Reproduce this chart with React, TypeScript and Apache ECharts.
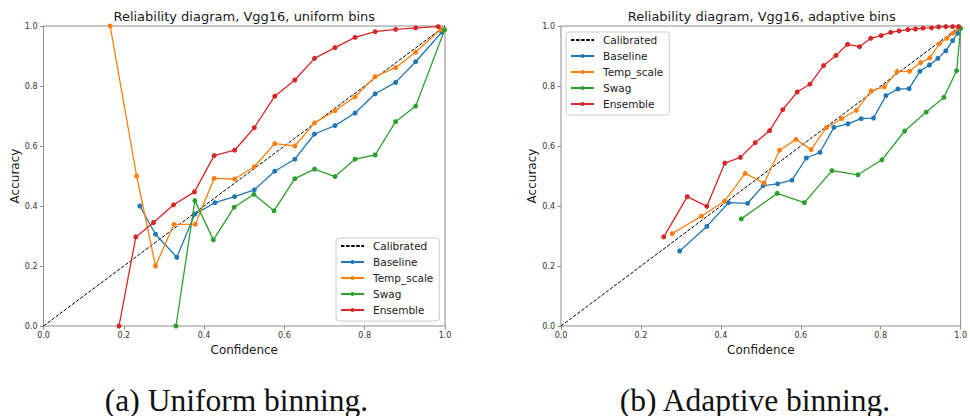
import React, { useEffect, useRef } from "react";
import * as echarts from "echarts";

// ---------- data ----------
const tickValues = [0, 0.2, 0.4, 0.6, 0.8, 1.0];
const seriesNames = ["Calibrated", "Baseline", "Temp_scale", "Swag", "Ensemble"];
const seriesColors = ["#000000", "#1f77b4", "#ff7f0e", "#2ca02c", "#d62728"];
const calibratedLine = [0, 1];

const plotTitles = [
  "Reliability diagram, Vgg16, uniform bins",
  "Reliability diagram, Vgg16, adaptive bins",
];
const captions = ["(a) Uniform binning.", "(b) Adaptive binning."];

// uniform bins
const uniBaselineConf = [0.240, 0.279, 0.332, 0.377, 0.427, 0.476, 0.525, 0.576, 0.626, 0.675, 0.726, 0.776, 0.826, 0.877, 0.927, 0.992];
const uniBaselineAcc = [0.400, 0.306, 0.229, 0.373, 0.411, 0.431, 0.454, 0.516, 0.556, 0.640, 0.668, 0.710, 0.774, 0.812, 0.881, 0.979];

const uniTempConf = [0.166, 0.232, 0.279, 0.325, 0.378, 0.425, 0.476, 0.525, 0.576, 0.626, 0.675, 0.726, 0.776, 0.826, 0.877, 0.927, 0.990];
const uniTempAcc = [1.000, 0.500, 0.200, 0.339, 0.339, 0.492, 0.490, 0.531, 0.608, 0.600, 0.677, 0.718, 0.764, 0.831, 0.861, 0.913, 0.989];

const uniSwagConf = [0.330, 0.377, 0.423, 0.475, 0.524, 0.574, 0.626, 0.675, 0.726, 0.776, 0.826, 0.877, 0.927, 0.999];
const uniSwagAcc = [0.000, 0.418, 0.287, 0.396, 0.439, 0.384, 0.491, 0.523, 0.498, 0.556, 0.570, 0.681, 0.733, 0.987];

const uniEnsembleConf = [0.188, 0.230, 0.274, 0.324, 0.376, 0.425, 0.476, 0.525, 0.576, 0.626, 0.675, 0.726, 0.776, 0.826, 0.877, 0.927, 0.983];
const uniEnsembleAcc = [0.000, 0.297, 0.345, 0.404, 0.447, 0.568, 0.586, 0.661, 0.766, 0.820, 0.892, 0.928, 0.962, 0.981, 0.989, 0.994, 0.998];

// adaptive bins
const adaBaselineConf = [0.297, 0.365, 0.419, 0.467, 0.506, 0.542, 0.578, 0.614, 0.648, 0.683, 0.718, 0.751, 0.782, 0.813, 0.843, 0.871, 0.898, 0.922, 0.943, 0.963, 0.980, 0.993];
const adaBaselineAcc = [0.250, 0.332, 0.411, 0.409, 0.468, 0.474, 0.486, 0.560, 0.579, 0.662, 0.674, 0.691, 0.693, 0.768, 0.790, 0.791, 0.849, 0.870, 0.892, 0.917, 0.951, 0.976];

const adaTempConf = [0.278, 0.351, 0.409, 0.461, 0.508, 0.547, 0.588, 0.626, 0.664, 0.702, 0.739, 0.776, 0.809, 0.841, 0.872, 0.900, 0.923, 0.947, 0.966, 0.981, 0.995];
const adaTempAcc = [0.308, 0.366, 0.416, 0.509, 0.476, 0.586, 0.622, 0.588, 0.661, 0.691, 0.719, 0.784, 0.797, 0.848, 0.849, 0.878, 0.894, 0.941, 0.959, 0.976, 0.992];

const adaSwagConf = [0.451, 0.541, 0.609, 0.678, 0.743, 0.803, 0.860, 0.914, 0.958, 0.990, 1.000];
const adaSwagAcc = [0.357, 0.442, 0.411, 0.518, 0.504, 0.554, 0.650, 0.713, 0.762, 0.851, 0.992];

const adaEnsembleConf = [0.257, 0.316, 0.365, 0.410, 0.449, 0.486, 0.522, 0.555, 0.591, 0.623, 0.657, 0.688, 0.717, 0.747, 0.775, 0.801, 0.825, 0.846, 0.868, 0.887, 0.906, 0.927, 0.945, 0.963, 0.980, 0.995];
const adaEnsembleAcc = [0.297, 0.431, 0.399, 0.543, 0.562, 0.611, 0.651, 0.721, 0.780, 0.806, 0.868, 0.902, 0.939, 0.931, 0.959, 0.968, 0.979, 0.984, 0.988, 0.990, 0.993, 0.994, 0.997, 0.998, 0.998, 0.998];

const panels = [
  [
    [uniBaselineConf, uniBaselineAcc],
    [uniTempConf, uniTempAcc],
    [uniSwagConf, uniSwagAcc],
    [uniEnsembleConf, uniEnsembleAcc],
  ],
  [
    [adaBaselineConf, adaBaselineAcc],
    [adaTempConf, adaTempAcc],
    [adaSwagConf, adaSwagAcc],
    [adaEnsembleConf, adaEnsembleAcc],
  ],
];

// ---------- layout ----------
const SANS = "DejaVu Sans";
const SPINE = "#8c8c8c";
const TEXT = "#1a1a1a";
const gridLefts = [43.5, 561];
const GRID_TOP = 26;
const GRID_W = 401.5;
const GRID_H = 300;
const legendPos = [
  { left: 336, top: 238 },
  { left: 566, top: 32 },
];
const captionCenters = [236.5, 755];

function zip(xs: number[], ys: number[]) {
  return xs.map((x, i) => [x, ys[i]]);
}

function buildOption() {
  const grid = gridLefts.map((l) => ({
    left: l,
    top: GRID_TOP,
    width: GRID_W,
    height: GRID_H,
    show: true,
    borderColor: SPINE,
    borderWidth: 1,
    backgroundColor: "transparent",
    containLabel: false,
  }));

  const axisCommon = {
    type: "value" as const,
    min: tickValues[0],
    max: tickValues[tickValues.length - 1],
    interval: tickValues[1] - tickValues[0],
    splitLine: { show: false },
    axisLine: { show: false },
    axisTick: { show: true, inside: false, length: 3.5, lineStyle: { color: SPINE, width: 1 } },
    nameLocation: "middle" as const,
    nameTextStyle: { fontFamily: SANS, fontSize: 12, color: TEXT },
  };

  const xAxis = gridLefts.map((_, i) => ({
    ...axisCommon,
    gridIndex: i,
    name: "Confidence",
    nameGap: 13,
    axisLabel: {
      fontFamily: SANS,
      fontSize: 8,
      color: "#333",
      margin: 5,
      showMinLabel: true,
      showMaxLabel: true,
      formatter: (v: number) => v.toFixed(1),
    },
  }));

  const yAxis = gridLefts.map((_, i) => ({
    ...axisCommon,
    gridIndex: i,
    name: "Accuracy",
    nameGap: 20,
    nameRotate: 90,
    axisLabel: {
      fontFamily: SANS,
      fontSize: 8,
      color: "#333",
      margin: 6,
      showMinLabel: true,
      showMaxLabel: true,
      formatter: (v: number) => v.toFixed(1),
    },
  }));

  const series: any[] = [];
  panels.forEach((panel, p) => {
    series.push({
      type: "line",
      name: seriesNames[0],
      xAxisIndex: p,
      yAxisIndex: p,
      data: zip(calibratedLine, calibratedLine),
      symbol: "none",
      lineStyle: { color: seriesColors[0], width: 1, type: [3.5, 1.6] },
      itemStyle: { color: seriesColors[0] },
      z: 2,
    });
    panel.forEach(([xs, ys], k) => {
      series.push({
        type: "line",
        name: seriesNames[k + 1],
        xAxisIndex: p,
        yAxisIndex: p,
        data: zip(xs, ys),
        symbol: "circle",
        symbolSize: 5,
        showSymbol: true,
        lineStyle: { color: seriesColors[k + 1], width: 1.3 },
        itemStyle: { color: seriesColors[k + 1] },
        z: 3 + k,
        clip: true,
      });
    });
  });

  const legendData = seriesNames.map((n, i) =>
    i === 0 ? { name: n, itemStyle: { opacity: 0 } } : { name: n }
  );

  const legend = legendPos.map((pos) => ({
    data: legendData,
    orient: "vertical" as const,
    left: pos.left,
    top: pos.top,
    padding: [2, 6, 5, 4],
    itemWidth: 23,
    itemHeight: 5,
    itemGap: 4,
    borderColor: "#cccccc",
    borderWidth: 1,
    borderRadius: 3,
    backgroundColor: "rgba(255,255,255,0.8)",
    selectedMode: false,
    textStyle: {
      fontFamily: SANS,
      fontSize: 10.5,
      lineHeight: 12,
      color: TEXT,
      padding: [0, 0, 0, 4],
    },
  }));

  const title = plotTitles.map((t, i) => ({
    text: t,
    left: gridLefts[i] + GRID_W / 2,
    top: 10,
    textAlign: "center" as const,
    padding: 0,
    textStyle: { fontFamily: SANS, fontSize: 13, fontWeight: "normal" as const, color: TEXT },
  }));

  const graphic = captions.map((c, i) => ({
    type: "text" as const,
    x: captionCenters[i],
    y: 400,
    style: {
      text: c,
      fontFamily: "Liberation Serif",
      fontSize: 31.5,
      align: "center",
      verticalAlign: "middle",
      fill: "#111",
    },
  }));

  return {
    animation: false,
    backgroundColor: "#ffffff",
    title,
    grid,
    xAxis,
    yAxis,
    legend,
    series,
    graphic,
  };
}

export default function App() {
  const ref = useRef<HTMLDivElement>(null);
  useEffect(() => {
    if (!ref.current) return;
    const chart = echarts.init(ref.current, null, { renderer: "svg" });
    chart.setOption(buildOption() as any);
    return () => chart.dispose();
  }, []);
  return (
    <div
      ref={ref}
      style={{ position: "absolute", left: 0, top: 0, width: 970, height: 416 }}
    />
  );
}
